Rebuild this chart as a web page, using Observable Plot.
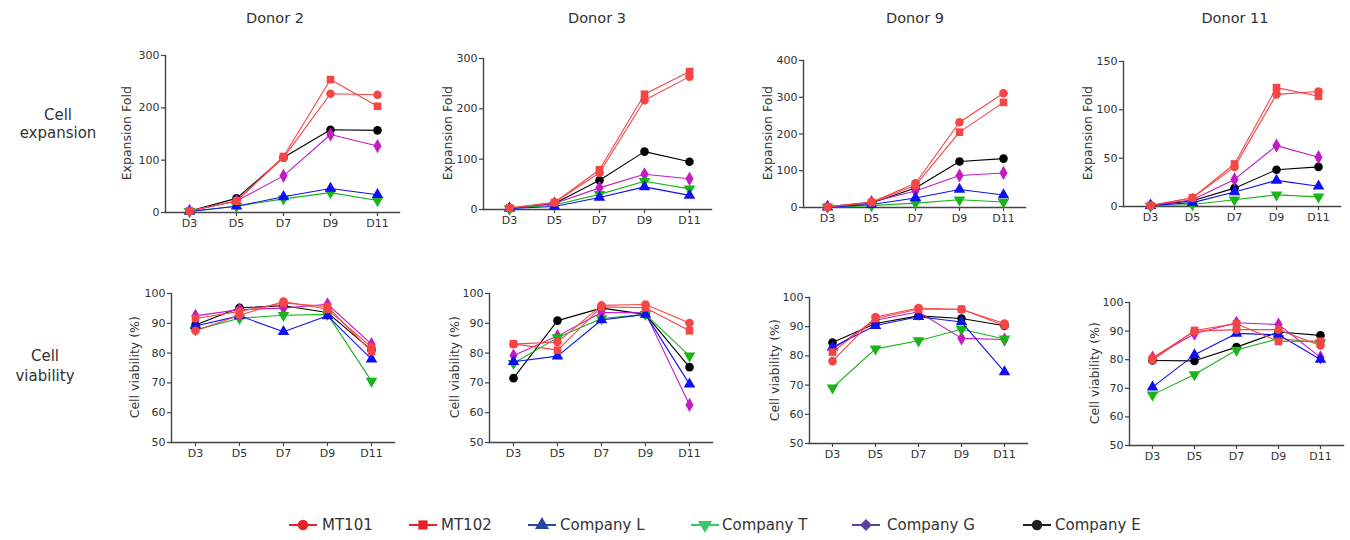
<!DOCTYPE html>
<html><head><meta charset="utf-8">
<script src="https://cdn.jsdelivr.net/npm/d3@7"></script>
<script src="https://cdn.jsdelivr.net/npm/@observablehq/plot@0.6"></script>
<style>
body{margin:0;background:#fff;font-family:"DejaVu Sans",sans-serif;color:#333}
#root{position:relative;width:1350px;height:540px;overflow:hidden;background:#fff}
.abs{position:absolute;white-space:nowrap}
</style></head><body><div id="root"></div>
<script>
// ---------- data ----------
const days = ["D3", "D5", "D7", "D9", "D11"];
const series = ["MT101", "MT102", "Company L", "Company T", "Company G", "Company E"];
const donors = ["Donor 2", "Donor 3", "Donor 9", "Donor 11"];

// Expansion fold, one row per series (MT101, MT102, L, T, G, E)
const expDonor2 = [
  [3, 22, 105, 227, 225],
  [3, 22, 107, 254, 203],
  [2, 12, 30, 46, 34],
  [2, 12, 26, 38, 23],
  [3, 22, 70, 149, 127],
  [3, 27, 105, 158, 157]
];
const expDonor3 = [
  [3, 14, 73, 217, 264],
  [3, 14, 79, 229, 274],
  [2, 6, 24, 45, 28],
  [2, 9, 30, 56, 41],
  [2, 12, 43, 70, 61],
  [2, 12, 58, 115, 95]
];
const expDonor9 = [
  [2, 14, 66, 232, 311],
  [2, 14, 60, 205, 286],
  [1, 8, 26, 49, 34],
  [1, 5, 12, 21, 15],
  [2, 15, 45, 87, 94],
  [2, 12, 53, 125, 133]
];
const expDonor11 = [
  [1, 9, 41, 116, 119],
  [1, 9, 44, 123, 114],
  [1, 4, 15, 27, 21],
  [0.5, 2, 7, 12, 10],
  [1, 7, 28, 63, 51],
  [1, 6, 19, 38, 41]
];
// Cell viability (%)
const viaDonor2 = [
  [87.5, 92.7, 97.3, 94.7, 82],
  [91.6, 94, 96.8, 95.6, 80.5],
  [89.1, 92.5, 87.2, 92.5, 78],
  [87.8, 91.7, 92.7, 93, 70.6],
  [92.5, 94.6, 95.1, 96.4, 83],
  [89.4, 95.2, 95.9, 93.6, 81]
];
const viaDonor3 = [
  [83, 83.7, 96, 96.3, 90.1],
  [83.1, 81, 95.5, 95.2, 87.5],
  [77.1, 79, 91.1, 93, 69.6],
  [76.6, 85.2, 91.6, 93, 79.1],
  [79.2, 85.7, 93.6, 93.5, 62.6],
  [71.6, 90.9, 95.1, 93, 75.3]
];
const viaDonor9 = [
  [78.2, 93.3, 96.4, 95.9, 91.1],
  [81.3, 92.8, 96, 96, 90.4],
  [83, 90.4, 93.4, 91.6, 74.5],
  [69.1, 82.4, 85.2, 89.1, 85.8],
  [82.3, 92.2, 95.1, 86, 85.6],
  [84.6, 91.1, 93.7, 92.8, 90.3]
];
const viaDonor11 = [
  [80.6, 90, 90.5, 90.5, 85],
  [79.8, 90.2, 92.6, 86.4, 86.5],
  [70.4, 81.7, 89.2, 88.7, 80.1],
  [67.7, 74.8, 83.4, 87.4, 85.9],
  [80.7, 89.1, 92.9, 92.3, 80.8],
  [79.7, 79.6, 84.4, 89.7, 88.5]
];

const expTicks2 = [0, 100, 200, 300];
const expTicks3 = [0, 100, 200, 300];
const expTicks9 = [0, 100, 200, 300, 400];
const expTicks11 = [0, 50, 100, 150];
const viaTicks = [50, 60, 70, 80, 90, 100];

// ---------- styles ----------
const lineColors = ["#f54545", "#f54545", "#1010f5", "#18b418", "#c21cc2", "#000000"];
const legendColors = ["#e8202a", "#e8202a", "#2747a6", "#3cc76b", "#5c3f9e", "#231f20"];
const triangleDown = {
  draw(context, size) {
    const s3 = Math.sqrt(3);
    const y = Math.sqrt(size / (s3 * 3));
    context.moveTo(0, y * 2);
    context.lineTo(-s3 * y, -y);
    context.lineTo(s3 * y, -y);
    context.closePath();
  }
};
const symbols = ["circle", "square", "triangle", triangleDown, "diamond", "circle"];

// panel geometry: axis x, first/last category x, top/bottom of y axis (page pixels)
const panels = [
  {vals: expDonor2, ticks: expTicks2, label: "Expansion Fold", ax: 165, x0: 188, x1: 377, yt: 55, yb: 212, lab: 38},
  {vals: expDonor3, ticks: expTicks3, label: "Expansion Fold", ax: 483, x0: 508, x1: 689, yt: 58, yb: 209, lab: 35},
  {vals: expDonor9, ticks: expTicks9, label: "Expansion Fold", ax: 803, x0: 827, x1: 1003, yt: 60, yb: 207, lab: 35},
  {vals: expDonor11, ticks: expTicks11, label: "Expansion Fold", ax: 1123, x0: 1149, x1: 1318, yt: 61, yb: 206, lab: 35},
  {vals: viaDonor2, ticks: viaTicks, label: "Cell viability (%)", ax: 171, x0: 193, x1: 372, yt: 293, yb: 442, lab: 36},
  {vals: viaDonor3, ticks: viaTicks, label: "Cell viability (%)", ax: 489, x0: 511, x1: 690, yt: 293, yb: 442, lab: 34},
  {vals: viaDonor9, ticks: viaTicks, label: "Cell viability (%)", ax: 809, x0: 831, x1: 1005, yt: 297, yb: 443, lab: 34},
  {vals: viaDonor11, ticks: viaTicks, label: "Cell viability (%)", ax: 1129, x0: 1150, x1: 1321, yt: 302, yb: 445, lab: 34}
];

const root = document.getElementById("root");
function addText(txt, x, y, size, anchor = "middle", rotate = 0) {
  const d = document.createElement("div");
  d.className = "abs";
  d.textContent = txt;
  d.style.fontSize = size + "px";
  d.style.lineHeight = "1";
  d.style.top = (y - size / 2) + "px";
  d.style.left = x + "px";
  if (anchor === "middle") d.style.transform = `translateX(-50%)` + (rotate ? ` rotate(${rotate}deg)` : "");
  root.appendChild(d);
  return d;
}

panels.forEach(p => {
  const ML = 60, MT = 12, MB = 26, extra = 22;
  const left = p.ax - ML, top = p.yt - MT;
  const width = p.x1 + extra - left;
  const height = p.yb + MB - top;
  const data = [];
  series.forEach((s, i) => p.vals[i].forEach((v, j) => data.push({series: s, day: days[j], value: v})));
  const marks = [];
  for (let i = series.length - 1; i >= 0; i--) {
    const sub = data.filter(d => d.series === series[i]);
    marks.push(Plot.line(sub, {x: "day", y: "value", stroke: "series", strokeWidth: 1.1}));
    marks.push(Plot.dot(sub, {x: "day", y: "value", symbol: "series", fill: "series", r: 4.3, stroke: "none"}));
  }
  const chart = Plot.plot({
    width, height,
    marginLeft: ML, marginTop: MT, marginBottom: MB, marginRight: 0,
    style: {fontFamily: "DejaVu Sans, sans-serif", fontSize: "11px", color: "#333", background: "transparent", overflow: "visible"},
    x: {type: "point", domain: days, range: [p.x0 - left, p.x1 - left], padding: 0},
    y: {domain: [p.ticks[0], p.ticks[p.ticks.length - 1]], range: [height - MB, MT]},
    color: {domain: series, range: lineColors},
    symbol: {domain: series, range: symbols},
    marks: [
      Plot.axisY({ticks: p.ticks, tickSize: 4, tickPadding: 2, label: null, stroke: "#444", strokeWidth: 1.2}),
      Plot.axisX({tickSize: 4, tickPadding: 3, label: null, stroke: "#444", strokeWidth: 1.2}),
      Plot.frame({anchor: "left", stroke: "#444", strokeWidth: 1.4}),
      Plot.frame({anchor: "bottom", stroke: "#444", strokeWidth: 1.4}),
      ...marks
    ]
  });
  chart.style.position = "absolute";
  chart.style.left = left + "px";
  chart.style.top = top + "px";
  root.appendChild(chart);
  // y-axis title
  addText(p.label, p.ax - p.lab, (p.yt + p.yb) / 2, 12.5, "middle", -90);
});

// column titles
const titleX = [275, 597, 915, 1235];
donors.forEach((d, i) => addText(d, titleX[i], 18, 14.5));
// row labels
addText("Cell", 58, 115, 15);
addText("expansion", 58, 133, 15);
addText("Cell", 45, 356, 15);
addText("viability", 45, 376, 15);

// legend
const legendX = [303, 423, 542, 705, 866, 1037];
const legendTextX = [322, 441, 560, 722, 887, 1055];
const legendY = 525;
series.forEach((s, i) => {
  const svg = d3.create("svg").attr("width", 34).attr("height", 18)
    .style("position", "absolute").style("left", (legendX[i] - 17) + "px").style("top", (legendY - 9) + "px");
  svg.append("line").attr("x1", 3).attr("x2", 31).attr("y1", 9).attr("y2", 9)
    .attr("stroke", legendColors[i]).attr("stroke-width", 2);
  const sym = typeof symbols[i] === "string"
    ? {circle: d3.symbolCircle, square: d3.symbolSquare, triangle: d3.symbolTriangle, diamond: d3.symbolDiamond2}[symbols[i]]
    : symbols[i];
  svg.append("path").attr("transform", "translate(17,9)")
    .attr("d", d3.symbol(sym, i === 4 ? 90 : 85)())
    .attr("fill", legendColors[i]);
  root.appendChild(svg.node());
  addText(s, legendTextX[i], legendY, 15, "start");
});
</script></body></html>
